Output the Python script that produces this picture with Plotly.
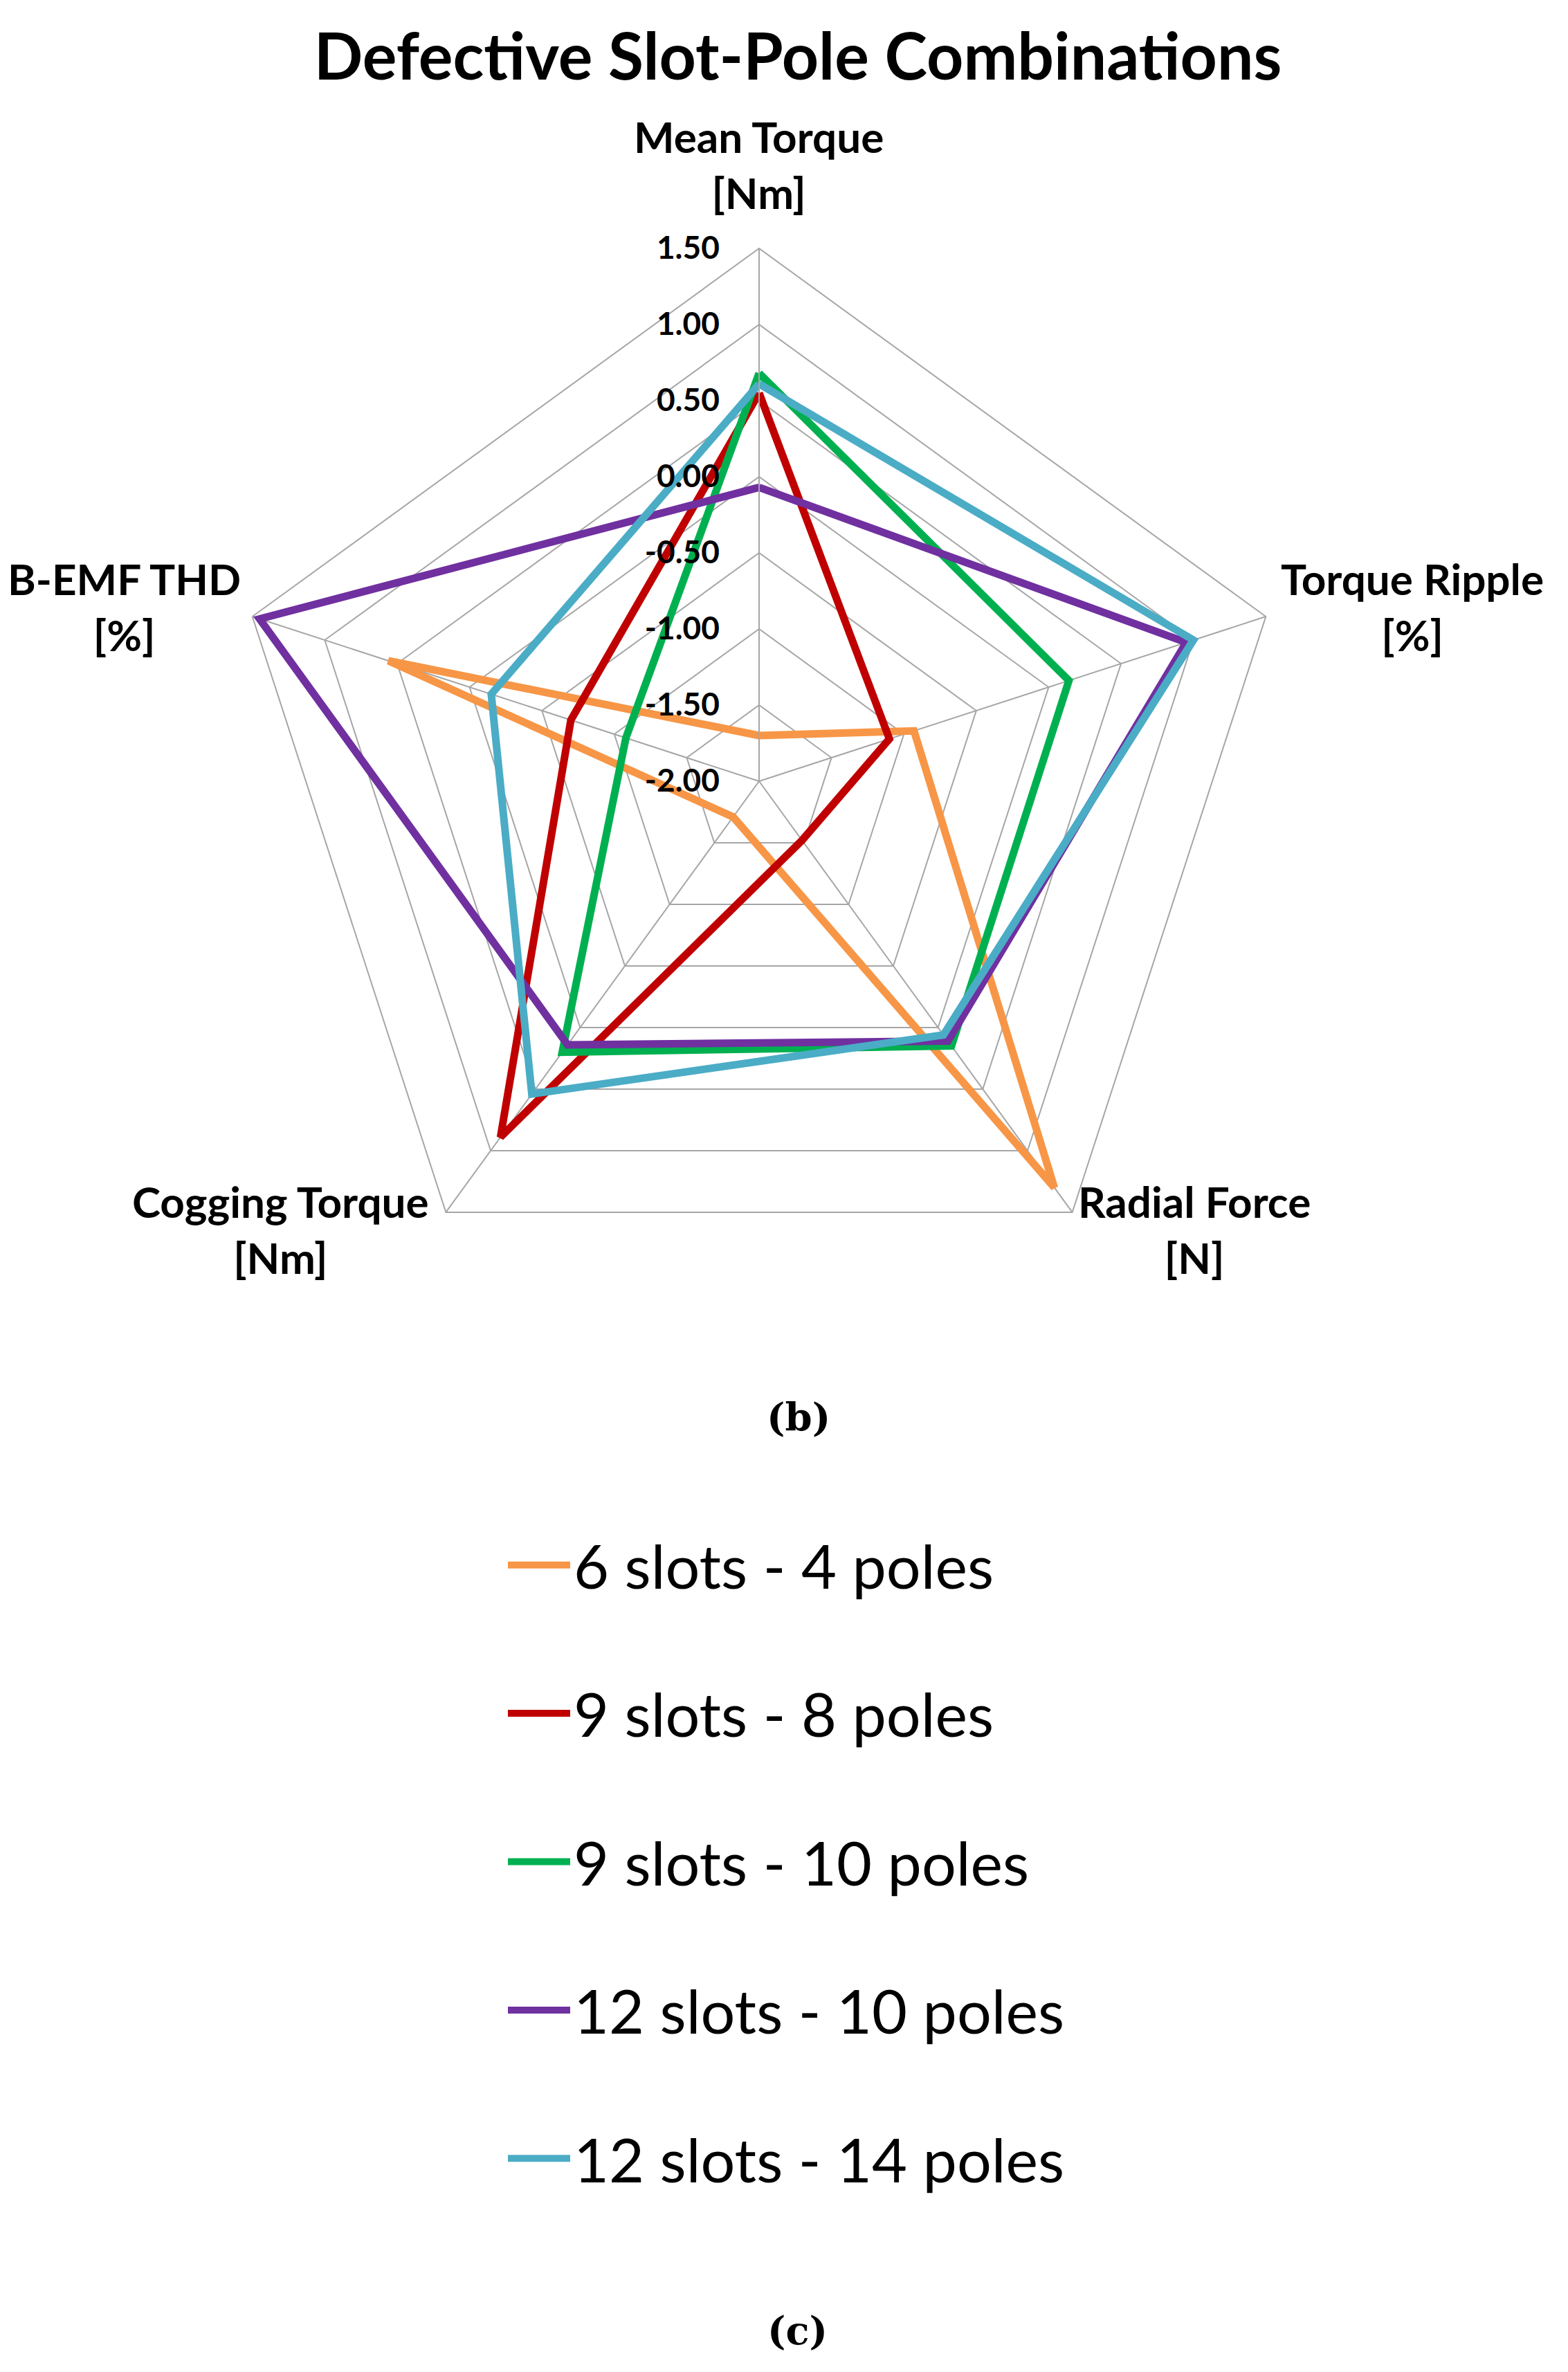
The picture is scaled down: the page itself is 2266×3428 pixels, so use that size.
import plotly.graph_objects as go

# ---------------- data ----------------
categories = ["Mean Torque<br>[Nm]", "Torque Ripple<br>[%]", "Radial Force<br>[N]",
              "Cogging Torque<br>[Nm]", "B-EMF THD<br>[%]"]

series_names = ["6 slots - 4 poles", "9 slots - 8 poles", "9 slots - 10 poles",
                "12 slots - 10 poles", "12 slots - 14 poles"]

s6_4 = [-1.70, -0.93, 1.30, -1.71, 0.56]
s9_8 = [0.55, -1.10, -1.52, 0.89, -0.70]
s9_10 = [0.68, 0.14, 0.15, 0.20, -1.08]
s12_10 = [-0.07, 0.95, 0.11, 0.14, 1.45]
s12_14 = [0.61, 1.00, 0.06, 0.54, -0.15]

series_values = [s6_4, s9_8, s9_10, s12_10, s12_14]
colors = ["#F79646", "#C00000", "#00B050", "#7030A0", "#4BACC6"]

tick_vals = [-2.0, -1.5, -1.0, -0.5, 0.0, 0.5, 1.0, 1.5]
tick_text = ["-2.00", "-1.50", "-1.00", "-0.50", "0.00", "0.50", "1.00", "1.50"]

title_text = "Defective Slot-Pole Combinations"
panel_labels = ["(b)", "(c)"]

W, H = 2266, 3428
GRID = "#A6A6A6"

fig = go.Figure()
for name, vals, col in zip(series_names, series_values, colors):
    fig.add_trace(go.Scatterpolar(
        r=vals + vals[:1],
        theta=categories + categories[:1],
        mode="lines",
        name=name,
        legendgroup=name,
        line=dict(color=col, width=11),
    ))

# polar domain: centre / radius in px
cx, cy, R = 1089, 1121, 770

# category label placement (pixel centres of the text blocks)
cat_label_pos = [(1088, 229), (2033, 868), (1718, 1768), (397, 1768), (171, 868)]
annotations = []
for txt, (px, py) in zip(categories, cat_label_pos):
    annotations.append(dict(
        text=txt, x=px / W, y=1 - py / H, xref="paper", yref="paper",
        xanchor="center", yanchor="middle", align="center", showarrow=False,
        font=dict(family="Lato", size=62, color="black", weight="bold")))

for txt, (px, py) in zip(panel_labels, [(1146, 2040), (1144, 3360)]):
    annotations.append(dict(
        text=txt, x=px / W, y=1 - py / H, xref="paper", yref="paper",
        xanchor="center", yanchor="middle", showarrow=False,
        font=dict(family="DejaVu Serif", size=56, color="black", weight="bold")))

fig.update_layout(
    width=W, height=H,
    margin=dict(l=0, r=0, t=0, b=0),
    paper_bgcolor="white",
    plot_bgcolor="white",
    title=dict(text=title_text, x=1145 / W, xanchor="center", y=1 - 74 / H, yanchor="middle",
               font=dict(family="Lato", size=93, color="black", weight="bold")),
    polar=dict(
        domain=dict(x=[(cx - R) / W, (cx + R) / W], y=[1 - (cy + R) / H, 1 - (cy - R) / H]),
        gridshape="linear",
        bgcolor="white",
        radialaxis=dict(
            range=[-2, 1.5], tickvals=tick_vals, ticktext=tick_text,
            angle=90, side="counterclockwise", tickangle=90,
            showline=True, linecolor=GRID, linewidth=2,
            gridcolor=GRID, gridwidth=2,
            ticks="outside", ticklen=40, tickcolor="rgba(0,0,0,0)",
            tickfont=dict(family="Lato", size=46, color="black", weight="bold"),
        ),
        angularaxis=dict(
            rotation=90, direction="clockwise",
            showline=True, linecolor=GRID, linewidth=2,
            gridcolor=GRID, gridwidth=2,
            ticks="", showticklabels=False,
        ),
    ),
    showlegend=True,
    legend=dict(
        x=721 / W, xanchor="left", y=1 - 2190 / H, yanchor="top",
        traceorder="grouped", tracegroupgap=97, itemwidth=90,
        font=dict(family="Lato", size=88, color="black"),
        bgcolor="rgba(0,0,0,0)",
    ),
    annotations=annotations,
)

fig.write_html("out.html")
